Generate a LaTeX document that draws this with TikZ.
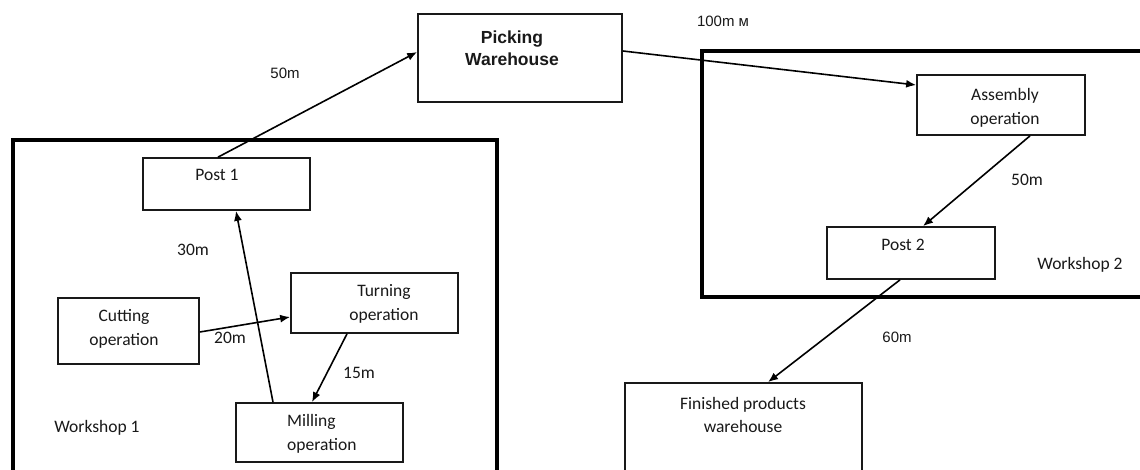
\documentclass[tikz,border=0pt]{standalone}
\usepackage{fontspec}
\setmainfont{Carlito}
\newfontfamily\arialf{Liberation Sans}
\usetikzlibrary{arrows.meta,calc}
\definecolor{ink}{RGB}{25,25,25}
\begin{document}
\begin{tikzpicture}[x=1pt,y=-1pt,
  box/.style={draw=ink, line width=1.7pt, inner sep=0pt},
  shop/.style={draw=black, line width=3.4pt, inner sep=0pt},
  txt/.style={text=ink, font=\fontsize{17.5}{23.5}\selectfont, align=center, inner sep=0pt},
  atxt/.style={text=ink, font=\arialf\fontsize{15}{19}\selectfont, inner sep=0pt},
  btxt/.style={text=ink, font=\arialf\bfseries\fontsize{17.5}{22}\selectfont, align=center, inner sep=0pt},
  flow/.style={draw=black, line width=1.6pt, -{Latex[length=10pt,width=8pt]}}]
\useasboundingbox (0,0) rectangle (1140,470);
\clip (0,0) rectangle (1140,470);
\fill[white] (0,0) rectangle (1140,470);

% workshops
\node[shop, minimum width=484pt, minimum height=350pt] (ws1) at (255,315) {};
\node[shop, minimum width=458pt, minimum height=246pt] (ws2) at (931,174) {};

% boxes
\node[box, minimum width=204pt, minimum height=88pt] (pick) at (520,58) {};
\node[box, minimum width=167pt, minimum height=52pt] (post1) at (226.5,184) {};
\node[box, minimum width=141pt, minimum height=66pt] (cut) at (128.5,331) {};
\node[box, minimum width=167pt, minimum height=60pt] (turn) at (374.5,303) {};
\node[box, minimum width=167pt, minimum height=59pt] (mill) at (319.5,432.5) {};
\node[box, minimum width=168pt, minimum height=60pt] (asm) at (1001,105) {};
\node[box, minimum width=168pt, minimum height=52pt] (post2) at (911,253) {};
\node[box, minimum width=237pt, minimum height=107pt] (fin) at (743.5,436.5) {};

% box texts
\node[btxt] (pickt) at (512,48) {Picking\\Warehouse};
\node[txt] (post1t) at (217,175) {Post 1};
\node[txt] (cutt) at (124,329) {Cutting\\operation};
\node[txt] (turnt) at (384,304) {Turning\\operation};
\node[txt, align=left, anchor=west] (millt) at (287,434) {Milling\\operation};
\node[txt] (asmt) at (1005,108) {Assembly\\operation};
\node[txt] (post2t) at (903,245) {Post 2};
\node[txt] (fint) at (743,415) {Finished products\\warehouse};

% free labels
\node[atxt] (l50a) at (285,73) {50m};
\node[atxt] (l100) at (723,21) {100m м};
\node[atxt] (l60) at (897,337) {60m};
\node[txt] (l50b) at (1027,180) {50m};
\node[txt] (l30) at (193,250) {30m};
\node[txt] (l20) at (230,338) {20m};
\node[txt] (l15) at (359,373) {15m};
\node[txt] (ws1t) at (97,428) {Workshop 1};
\node[txt] (ws2t) at (1080,265) {Workshop 2};

% connectors
\draw[flow] ([xshift=-8.5pt]post1.north) -- ([yshift=6pt]pick.west);
\draw[flow] ([yshift=7pt]pick.east) -- ([yshift=20pt]asm.west);
\draw[flow] ([xshift=29pt]asm.south) -- ([xshift=12pt]post2.north);
\draw[flow] ([xshift=-11pt]post2.south) -- ([xshift=24.5pt]fin.north);
\draw[flow] ([yshift=-1pt]cut.east) -- ([yshift=-14pt]turn.west);
\draw[flow] ([xshift=-27.5pt]turn.south) -- ([xshift=-7.5pt]mill.north);
\draw[flow] ([xshift=-46.5pt]mill.north) -- ([xshift=9.5pt]post1.south);
\end{tikzpicture}
\end{document}
